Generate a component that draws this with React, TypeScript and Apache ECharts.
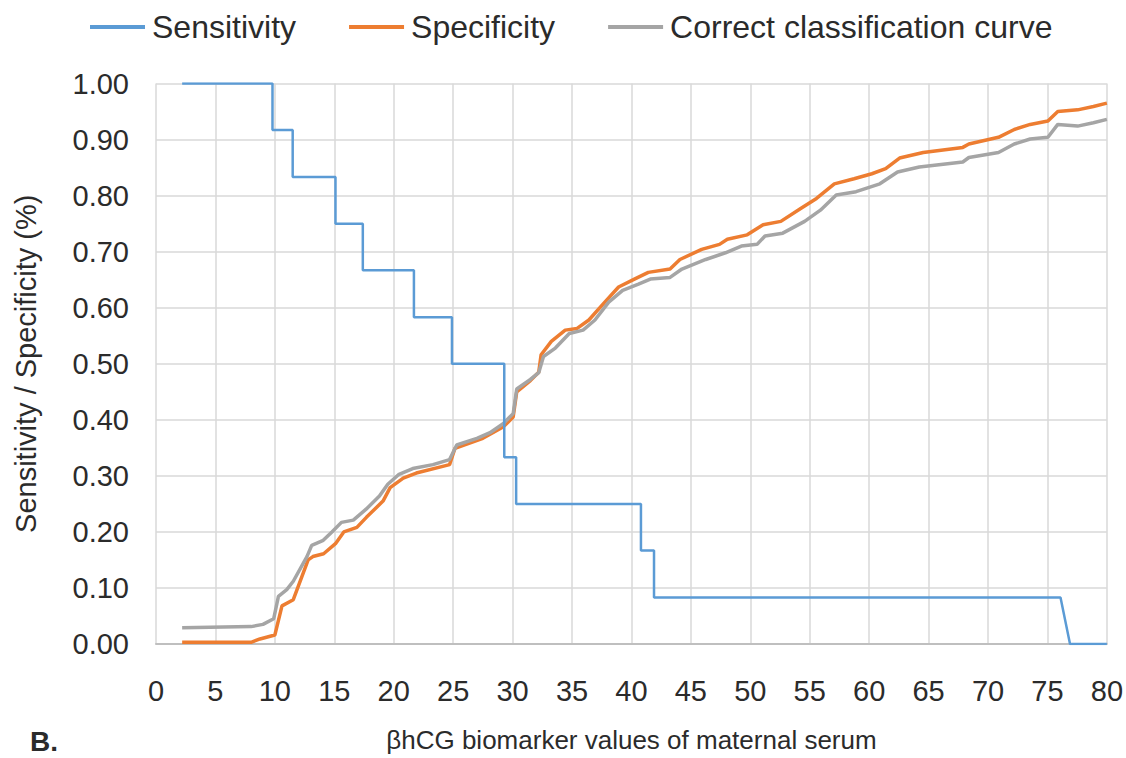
import React, { useEffect, useRef } from "react";
import * as echarts from "echarts";

const sensX = [2.2, 9.8, 9.8, 11.5, 11.5, 15.1, 15.1, 17.4, 17.4, 21.7, 21.7, 24.9, 24.9, 29.3, 29.3, 30.3, 30.3, 40.8, 40.8, 41.9, 41.9, 76.1, 76.9, 80];
const sensY = [1, 1, 0.917, 0.917, 0.833, 0.833, 0.75, 0.75, 0.667, 0.667, 0.583, 0.583, 0.5, 0.5, 0.333, 0.333, 0.25, 0.25, 0.167, 0.167, 0.083, 0.083, 0, 0];

const specX = [2.2, 8.0, 8.75, 10.0, 10.6, 11.55, 12.8, 13.2, 14.1, 15.1, 15.8, 16.9, 17.7, 19.1, 19.7, 20.8, 21.9, 24.7, 25.15, 27.5, 29.2, 30.05, 30.35, 31.5, 32.2, 32.4, 33.26, 34.43, 35.43, 36.42, 37.76, 38.92, 40.25, 41.42, 43.25, 44.08, 45.91, 47.41, 48.07, 49.74, 51.08, 52.57, 54.24, 55.57, 57.07, 58.73, 60.23, 61.39, 62.56, 64.55, 67.88, 68.39, 70.88, 72.21, 73.55, 75.04, 75.87, 77.54, 78.87, 80];
const specY = [0.003, 0.003, 0.009, 0.016, 0.068, 0.079, 0.15, 0.156, 0.161, 0.179, 0.2, 0.208, 0.226, 0.255, 0.279, 0.296, 0.305, 0.32, 0.349, 0.367, 0.387, 0.405, 0.45, 0.47, 0.485, 0.516, 0.54, 0.56, 0.563, 0.578, 0.61, 0.637, 0.651, 0.663, 0.669, 0.686, 0.704, 0.713, 0.722, 0.73, 0.748, 0.754, 0.777, 0.795, 0.821, 0.83, 0.839, 0.848, 0.867, 0.877, 0.886, 0.892, 0.904, 0.918, 0.927, 0.933, 0.95, 0.953, 0.959, 0.965];

const corrX = [2.2, 8.0, 9.0, 9.9, 10.3, 11.0, 11.55, 12.7, 13.1, 14.07, 14.8, 15.6, 16.6, 17.7, 18.8, 19.5, 20.4, 21.6, 23.3, 24.7, 25.3, 27.0, 28.1, 29.2, 30.05, 30.35, 31.5, 32.2, 32.6, 33.6, 34.77, 35.93, 36.93, 38.09, 39.26, 40.59, 41.59, 43.25, 44.25, 46.25, 47.91, 49.25, 50.57, 51.24, 52.73, 54.57, 55.9, 57.23, 58.9, 60.9, 62.39, 64.22, 67.88, 68.39, 70.88, 72.21, 73.55, 75.04, 75.87, 77.54, 78.87, 80];
const corrY = [0.029, 0.031, 0.035, 0.045, 0.085, 0.097, 0.112, 0.156, 0.176, 0.185, 0.2, 0.217, 0.221, 0.241, 0.264, 0.285, 0.302, 0.313, 0.32, 0.329, 0.355, 0.367, 0.377, 0.393, 0.411, 0.455, 0.472, 0.484, 0.513, 0.528, 0.554, 0.56, 0.578, 0.61, 0.631, 0.642, 0.651, 0.654, 0.669, 0.686, 0.698, 0.71, 0.713, 0.728, 0.733, 0.754, 0.774, 0.801, 0.807, 0.821, 0.842, 0.851, 0.86, 0.868, 0.877, 0.892, 0.901, 0.904, 0.927, 0.924, 0.93, 0.936];

const seriesNames = ["Sensitivity", "Specificity", "Correct classification curve"];
const seriesColors = ["#5B9BD5", "#ED7D31", "#A5A5A5"];
const xTitle = "βhCG biomarker values of maternal serum";
const yTitle = "Sensitivity / Specificity (%)";
const panelLabel = "B.";

const zip = (xs: number[], ys: number[]) => xs.map((x, i) => [x, ys[i]]);

const FONT = "'Liberation Sans', Arial, sans-serif";
const TXT = "#2b2b2b";

export default function App() {
  const ref = useRef<HTMLDivElement>(null);
  useEffect(() => {
    if (!ref.current) return;
    const chart = echarts.init(ref.current, undefined, { renderer: "svg" });
    const widths = [2.5, 3.5, 3.5];
    const datas = [zip(sensX, sensY), zip(specX, specY), zip(corrX, corrY)];
    chart.setOption({
      animation: false,
      backgroundColor: "#ffffff",
      textStyle: { fontFamily: FONT },
      legend: {
        top: 6,
        left: 85,
        itemWidth: 55,
        itemHeight: 4,
        itemGap: 53,
        icon: "rect",
        data: seriesNames,
        textStyle: { fontSize: 32, color: TXT, fontFamily: FONT, padding: [0, 0, 0, 2] },
      },
      grid: { left: 156, right: 19, top: 83.5, bottom: 106.3, containLabel: false },
      xAxis: {
        type: "value",
        min: 0,
        max: 80,
        interval: 5,
        name: xTitle,
        nameLocation: "middle",
        nameGap: 83,
        nameTextStyle: { fontSize: 26, color: TXT, fontFamily: FONT },
        axisLine: { show: true, lineStyle: { color: "#BFBFBF", width: 2 } },
        axisTick: { show: false },
        axisLabel: { fontSize: 29, color: TXT, margin: 32, fontFamily: FONT },
        splitLine: { show: true, lineStyle: { color: "#D9D9D9", width: 1.5 } },
      },
      yAxis: {
        type: "value",
        min: 0,
        max: 1,
        interval: 0.1,
        name: yTitle,
        nameLocation: "middle",
        nameGap: 116,
        nameTextStyle: { fontSize: 29, color: TXT, fontFamily: FONT },
        axisLine: { show: false },
        axisTick: { show: false },
        axisLabel: {
          fontSize: 29,
          color: TXT,
          margin: 27,
          fontFamily: FONT,
          formatter: (v: number) => v.toFixed(2),
        },
        splitLine: { show: true, lineStyle: { color: "#D9D9D9", width: 1.5 } },
      },
      graphic: [
        {
          type: "text",
          left: 30,
          top: 727,
          style: { text: panelLabel, fontSize: 28, fontWeight: "bold", fill: TXT, fontFamily: FONT },
        },
      ],
      series: seriesNames.map((name, i) => ({
        name,
        type: "line",
        data: datas[i],
        showSymbol: false,
        symbol: "none",
        color: seriesColors[i],
        lineStyle: { color: seriesColors[i], width: widths[i] },
        z: i === 0 ? 4 : i === 1 ? 2 : 3,
      })),
    });
    return () => chart.dispose();
  }, []);
  return <div ref={ref} style={{ position: "fixed", left: 0, top: 0, width: 1126, height: 758 }} />;
}
